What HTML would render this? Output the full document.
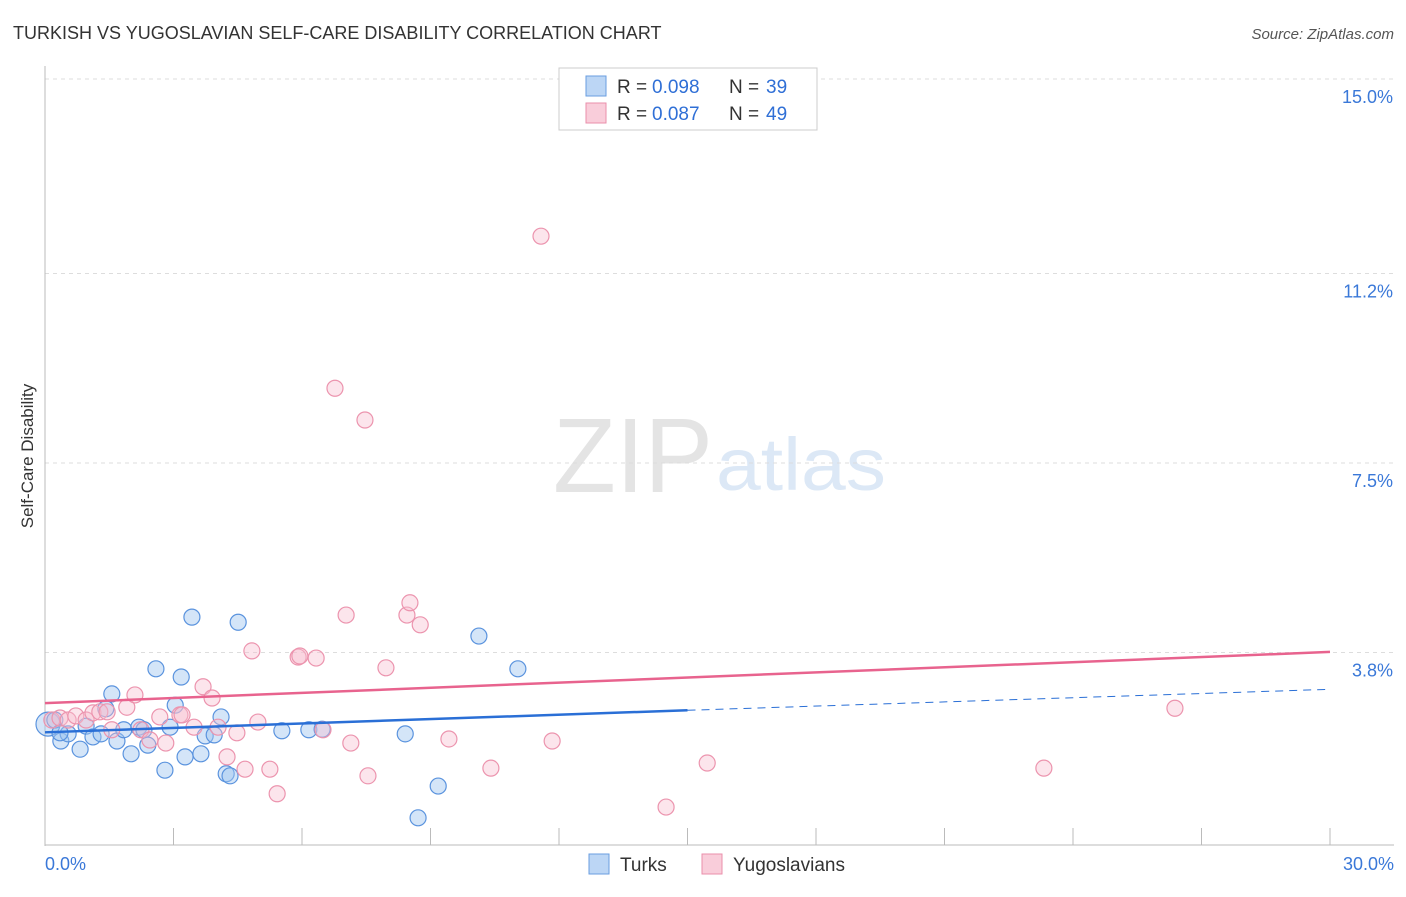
<!DOCTYPE html>
<html><head><meta charset="utf-8">
<style>
body{margin:0;background:#fff;font-family:"Liberation Sans",sans-serif;}
svg text{font-family:"Liberation Sans",sans-serif;}
</style></head>
<body>
<svg id="chart" width="1406" height="892" xmlns="http://www.w3.org/2000/svg">
<text x="13" y="39" font-size="18" fill="#333">TURKISH VS YUGOSLAVIAN SELF-CARE DISABILITY CORRELATION CHART</text>
<text x="1394" y="39" font-size="15" fill="#555" text-anchor="end" font-style="italic">Source: ZipAtlas.com</text>
<text x="553" y="492" font-size="106" fill="#e4e4e4" font-family="Liberation Serif" textLength="160" lengthAdjust="spacingAndGlyphs">ZIP</text>
<text x="716" y="490" font-size="74" fill="#dce8f6" textLength="170" lengthAdjust="spacingAndGlyphs">atlas</text>
<text transform="translate(33,456) rotate(-90)" font-size="17" fill="#333" text-anchor="middle">Self-Care Disability</text>
<g id="grid"></g>
<g id="axes"></g>
<g id="marks"></g>
<g>
<rect x="559" y="68" width="258" height="62" fill="#fff" stroke="#ccc"/>
<rect x="586" y="76" width="20" height="20" fill="#bcd6f5" stroke="#6a9ee0"/>
<rect x="586" y="103" width="20" height="20" fill="#f9cdda" stroke="#ea8fab"/>
<text x="617" y="93" font-size="19" fill="#333">R =</text>
<text x="652" y="93" font-size="19" fill="#2f6fd6">0.098</text>
<text x="729" y="93" font-size="19" fill="#333">N =</text>
<text x="766" y="93" font-size="19" fill="#2f6fd6">39</text>
<text x="617" y="120" font-size="19" fill="#333">R =</text>
<text x="652" y="120" font-size="19" fill="#2f6fd6">0.087</text>
<text x="729" y="120" font-size="19" fill="#333">N =</text>
<text x="766" y="120" font-size="19" fill="#2f6fd6">49</text>
</g>
<g>
<rect x="589" y="854" width="20" height="20" fill="#bcd6f5" stroke="#6a9ee0"/>
<text x="620" y="871" font-size="19" fill="#333">Turks</text>
<rect x="702" y="854" width="20" height="20" fill="#f9cdda" stroke="#ea8fab"/>
<text x="733" y="871" font-size="19" fill="#333">Yugoslavians</text>
</g>
</svg>
<script>
const yTicks=[3.8,7.5,11.2,15.0];
const yTickLabels=["3.8%","7.5%","11.2%","15.0%"];
const xTickLabels=["0.0%","30.0%"];
const turksX=[0.07,0.23,0.37,0.54,0.82,0.96,1.12,1.31,1.56,1.42,1.68,1.84,2.01,2.19,2.31,2.40,2.59,2.80,2.92,3.18,3.04,3.27,3.43,3.64,3.74,3.95,4.11,4.23,4.32,4.51,5.53,6.16,6.47,8.41,9.18,8.71,10.13,11.04,0.35];
const turksY=[2.40,2.48,2.07,2.21,1.91,2.36,2.15,2.21,2.99,2.70,2.07,2.29,1.82,2.34,2.29,1.99,3.48,1.50,2.34,3.32,2.77,1.76,4.49,1.82,2.17,2.19,2.54,1.43,1.39,4.39,2.27,2.29,2.30,2.21,1.19,0.57,4.12,3.48,2.23];
const yugoX=[0.16,0.35,0.54,0.72,0.96,1.12,1.28,1.45,1.56,1.91,2.10,2.24,2.45,2.68,2.82,3.15,3.20,3.48,3.69,3.90,4.04,4.25,4.48,4.67,4.83,4.97,5.25,5.42,5.91,5.95,6.33,6.49,6.77,7.03,7.14,7.47,7.54,7.96,8.45,8.52,8.76,9.43,10.41,11.58,11.84,14.50,15.46,23.32,26.38];
const yugoY=[2.48,2.52,2.48,2.56,2.48,2.62,2.64,2.64,2.29,2.73,2.97,2.29,2.09,2.54,2.03,2.58,2.58,2.34,3.13,2.91,2.34,1.76,2.23,1.52,3.83,2.44,1.52,1.04,3.71,3.73,3.69,2.29,8.96,4.53,2.03,8.34,1.39,3.50,4.53,4.77,4.34,2.11,1.54,11.93,2.07,0.78,1.64,1.54,2.71];
const turksTrend=[2.24,2.67,3.08];
const yugoTrend=[2.81,3.81];
const NS="http://www.w3.org/2000/svg";
const X0=45,X1=1330,Y0=847;
function xs(v){return X0+(X1-X0)*v/30;}
function ys(v){return Y0-v*51.2;}
function mk(tag,attrs,parent){const e=document.createElementNS(NS,tag);for(const k in attrs)e.setAttribute(k,attrs[k]);parent.appendChild(e);return e;}
const grid=document.getElementById('grid'),axes=document.getElementById('axes'),marks=document.getElementById('marks');
yTicks.forEach((t,i)=>{
 const l=mk('line',{x1:X0,x2:1394,y1:ys(t),y2:ys(t),stroke:'#ddd','stroke-dasharray':'4,4'},grid);
 
 
 const tx=mk('text',{x:1393,y:ys(t)+24,'font-size':18,fill:'#3a78d8','text-anchor':'end'},axes);
 tx.textContent=yTickLabels[i];
 
 
});
const ya=mk('line',{x1:X0,x2:X0,y1:66,y2:846,stroke:'#bbb'},axes);


const xa=mk('line',{x1:X0,x2:1394,y1:845,y2:845,stroke:'#bbb'},axes);


for(let i=1;i<=10;i++){
 const tk=mk('line',{x1:xs(i*3),x2:xs(i*3),y1:828,y2:845,stroke:'#bbb'},axes);
 
 
}
[[0,'start',45],[1,'end',1394]].forEach(([i,a,x])=>{
 const tx=mk('text',{x:x,y:870,'font-size':18,fill:'#3a78d8','text-anchor':a},axes);
 tx.textContent=xTickLabels[i];
 
 
});
turksX.forEach((x,i)=>{
 const c=mk('circle',{cx:xs(x),cy:ys(turksY[i]),r:i==0?12:8,fill:'rgba(160,198,240,0.45)',stroke:'#5a93de','stroke-width':1.2},marks);
 
 
});
yugoX.forEach((x,i)=>{
 const c=mk('circle',{cx:xs(x),cy:ys(yugoY[i]),r:8,fill:'rgba(248,190,208,0.4)',stroke:'#ec94ae','stroke-width':1.2},marks);
 
 
});
const t1=mk('line',{x1:xs(0),y1:ys(turksTrend[0]),x2:xs(15),y2:ys(turksTrend[1]),stroke:'#2a6fd6','stroke-width':2.5},marks);


const t2=mk('line',{x1:xs(15),y1:ys(turksTrend[1]),x2:xs(30),y2:ys(turksTrend[2]),stroke:'#2a6fd6','stroke-width':1,'stroke-dasharray':'8,6'},marks);


const t3=mk('line',{x1:xs(0),y1:ys(yugoTrend[0]),x2:xs(30),y2:ys(yugoTrend[1]),stroke:'#e8638e','stroke-width':2.5},marks);


</script>
</body></html>
